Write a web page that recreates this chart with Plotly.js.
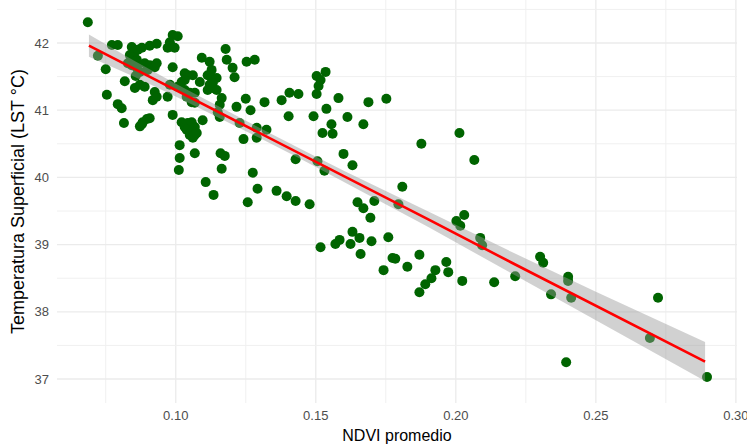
<!DOCTYPE html>
<html>
<head>
<meta charset="utf-8">
<script src="https://cdn.plot.ly/plotly-3.0.1.min.js"></script>
<style>html,body{margin:0;padding:0;background:#fff;}#chart{width:747px;height:446px;}</style>
</head>
<body>
<div id="chart"></div>
<script>
// NDVI promedio (x) and Temperatura Superficial LST °C (y)
const ndvi = [
0.0686,0.0722,0.0750,0.0772,0.0793,0.0818,0.0754,0.0793,0.0807,0.0815,
0.0843,0.0854,0.0865,0.0879,0.0836,0.0847,0.0861,0.0829,0.0843,0.0854,
0.0861,0.0872,0.0857,0.0889,0.0907,0.0925,0.0932,0.0900,0.0854,0.0872,
0.0889,0.0907,0.0932,0.0979,0.0989,0.1007,0.0971,0.0996,0.0925,0.0918,
0.0932,0.0971,0.0872,0.0882,0.0897,0.0907,0.0879,0.0989,0.0989,0.0979,
0.1032,0.1043,0.1061,0.1032,0.1021,0.1007,0.1032,0.1050,0.1068,0.1039,
0.1057,0.1068,0.1021,0.1032,0.1043,0.1057,0.1039,0.1057,0.1068,0.1050,
0.1068,0.1061,0.1075,0.1014,0.1014,0.1011,0.1068,0.1096,0.1093,0.1121,
0.1128,0.1114,0.1128,0.1146,0.1132,0.1121,0.1132,0.1146,0.1114,0.1086,
0.1164,0.1157,0.1150,0.1157,0.1178,0.1182,0.1203,0.1210,0.1217,0.1250,
0.1267,0.1242,0.1289,0.1289,0.1324,0.1228,0.1160,0.1175,0.1164,0.1107,
0.1135,0.1257,0.1275,0.1253,0.1282,
0.1317,0.1378,0.1406,0.1438,0.1403,0.1492,0.1503,0.1535,0.1517,0.1510,
0.1503,0.1538,0.1556,0.1524,0.1560,0.1581,0.1613,0.1670,0.1688,0.1752,
0.1599,0.1631,0.1428,0.1506,0.1531,0.1292,0.1360,0.1396,0.1428,0.1478,
0.1649,0.1670,0.1709,0.1695,0.1631,0.1656,0.1624,0.1699,0.1585,0.1570,
0.1517,0.1660,0.1759,0.1742,0.1774,0.1784,
0.1795,0.1809,0.1827,0.1870,0.1877,0.2013,0.2066,0.2002,0.2030,0.2016,
0.2087,0.2094,0.1966,0.1973,0.1927,0.1913,0.1891,0.1870,0.2023,0.2137,
0.2212,0.2301,0.2312,0.2401,0.2401,0.2340,0.2412,0.2722,0.2693,0.2394,
0.2897
];
const lst = [
42.31,41.81,41.61,41.97,41.97,41.43,41.23,41.09,41.03,40.81,
41.94,41.87,41.90,41.93,41.82,41.78,41.75,41.70,41.67,41.72,
41.63,41.57,41.51,41.70,41.67,41.64,41.70,41.60,41.33,41.38,
41.35,41.96,41.99,42.01,42.12,42.10,41.93,41.93,41.27,41.15,
41.20,41.20,40.76,40.82,40.87,40.88,40.79,41.64,40.93,41.38,
41.55,41.52,41.52,41.45,41.42,41.35,41.30,41.26,41.26,41.20,
41.12,41.11,40.82,40.75,40.81,40.82,40.71,40.68,40.75,40.63,
40.63,40.59,40.66,40.48,40.29,40.11,40.36,40.85,41.78,41.72,
41.60,41.52,41.48,41.48,41.40,41.38,41.33,41.30,41.30,41.42,
41.18,41.08,40.97,40.90,41.91,41.75,41.63,41.49,41.05,41.17,
41.00,40.57,40.59,40.74,40.71,40.81,40.36,40.32,40.13,39.93,
39.74,39.63,40.07,41.72,41.75,
41.12,41.15,41.26,41.24,40.91,40.91,41.51,41.57,41.45,41.36,
41.24,41.02,40.79,40.66,40.65,41.18,40.90,40.79,41.12,41.17,
40.35,40.18,40.27,40.24,40.10,39.83,39.80,39.72,39.65,39.60,
39.63,39.54,39.65,39.40,39.19,39.10,39.01,39.05,39.07,39.01,
38.96,38.86,39.11,38.62,38.80,38.79,
39.60,39.86,38.67,38.85,40.50,40.66,40.26,39.35,39.44,39.28,
39.10,38.99,38.74,38.59,38.62,38.50,38.41,38.29,38.46,38.44,
38.53,38.82,38.73,38.52,38.46,38.26,38.21,38.21,37.61,37.25,
37.03
];

// Linear fit and its 95% band
const fitX    = [0.069, 0.085, 0.100, 0.115, 0.130, 0.145, 0.160, 0.190, 0.220, 0.250, 0.289];
const fitY    = [41.96, 41.62, 41.30, 40.98, 40.66, 40.34, 40.02, 39.38, 38.73, 38.09, 37.26];
const fitHalf = [0.165, 0.12, 0.095, 0.08, 0.075, 0.075, 0.08, 0.115, 0.16, 0.21, 0.29];

const xTicks = [0.10, 0.15, 0.20, 0.25, 0.30];
const xTickText = ['0.10', '0.15', '0.20', '0.25', '0.30'];
const xMinor = [0.075, 0.125, 0.175, 0.225, 0.275];
const yTicks = [37, 38, 39, 40, 41, 42];
const yMinor = [37.5, 38.5, 39.5, 40.5, 41.5, 42.5];

const fitHi = fitY.map((v, i) => v + fitHalf[i]);
const fitLo = fitY.map((v, i) => v - fitHalf[i]);

const traces = [
  {
    type: 'scatter', mode: 'markers', x: ndvi, y: lst,
    marker: {color: '#006400', size: 10, line: {width: 0}},
    hoverinfo: 'x+y', showlegend: false
  },
  {
    type: 'scatter', mode: 'lines', x: fitX.concat(fitX.slice().reverse()),
    y: fitHi.concat(fitLo.slice().reverse()),
    fill: 'toself', fillcolor: 'rgba(153,153,153,0.45)',
    line: {width: 0}, hoverinfo: 'skip', showlegend: false
  },
  {
    type: 'scatter', mode: 'lines', x: fitX, y: fitY,
    line: {color: '#FF0000', width: 2.6}, hoverinfo: 'skip', showlegend: false
  }
];

// grid drawn as shapes in axis coordinates (major + minor)
const gridShapes = [];
xTicks.concat(xMinor).forEach((v, i) => gridShapes.push({
  type: 'line', xref: 'x', yref: 'paper', x0: v, x1: v, y0: 0, y1: 1, layer: 'below',
  line: {color: i < xTicks.length ? '#EBEBEB' : '#F0F0F0', width: i < xTicks.length ? 1.3 : 1}
}));
yTicks.concat(yMinor).forEach((v, i) => gridShapes.push({
  type: 'line', xref: 'paper', yref: 'y', x0: 0, x1: 1, y0: v, y1: v, layer: 'below',
  line: {color: i < yTicks.length ? '#EBEBEB' : '#F0F0F0', width: i < yTicks.length ? 1.3 : 1}
}));

const layout = {
  width: 747, height: 446,
  margin: {l: 57, r: 10, t: 0, b: 43, pad: 0},
  paper_bgcolor: '#ffffff', plot_bgcolor: '#ffffff',
  font: {family: 'Liberation Sans, Arial, sans-serif', color: '#000000'},
  showlegend: false,
  shapes: gridShapes,
  xaxis: {
    range: [0.0576, 0.3004],
    tickmode: 'array', tickvals: xTicks, ticktext: xTickText,
    ticks: '', showline: false, zeroline: false, showgrid: false,
    tickfont: {size: 13, color: '#4D4D4D'},
    ticklabelstandoff: 3,
    ticklabeloverflow: 'allow',
    title: {text: 'NDVI promedio', font: {size: 16, color: '#000000'}, standoff: 7}
  },
  yaxis: {
    range: [36.643, 42.64],
    tickmode: 'array', tickvals: yTicks,
    ticks: '', showline: false, zeroline: false, showgrid: false,
    tickfont: {size: 13, color: '#4D4D4D'},
    ticklabelstandoff: 7,
    title: {text: 'Temperatura Superficial (LST °C)', font: {size: 18, color: '#000000'}, standoff: 5}
  }
};

Plotly.newPlot('chart', traces, layout, {displayModeBar: false, staticPlot: true});
</script>
</body>
</html>
